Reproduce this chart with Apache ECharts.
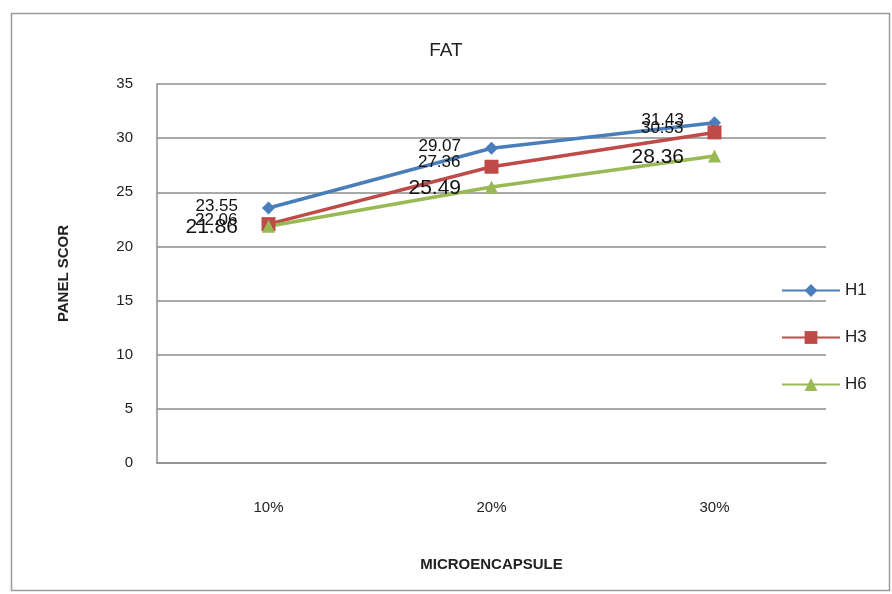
<!DOCTYPE html>
<html>
<head>
<meta charset="utf-8">
<script src="https://cdn.jsdelivr.net/npm/echarts@6/dist/echarts.min.js"></script>
<style>html,body{margin:0;padding:0;background:#fff}#c{width:892px;height:594px}</style>
</head>
<body>
<div id="c"></div>
<script>
const categories = ['10%', '20%', '30%'];
const h1 = [23.55, 29.07, 31.43];
const h3 = [22.06, 27.36, 30.53];
const h6 = [21.86, 25.49, 28.36];
const yTicks = [0, 5, 10, 15, 20, 25, 30, 35];

const chart = echarts.init(document.getElementById('c'));
const font = 'Liberation Sans, Arial, sans-serif';
function lbl(size) {
  return { show: true, position: 'left', distance: 24, color: '#111', fontSize: size, fontFamily: font };
}
chart.setOption({
  animation: false,
  backgroundColor: '#fff',
  graphic: [{
    type: 'rect', left: 9, top: 11,
    shape: { width: 878, height: 577 },
    style: { fill: 'none', stroke: '#9a9a9a', lineWidth: 1.5 }
  }],
  title: {
    text: 'FAT', left: 'center', top: 36,
    textStyle: { fontSize: 19, fontWeight: 'normal', color: '#222', fontFamily: font }
  },
  legend: {
    orient: 'vertical', left: 776, top: 277, itemGap: 30, itemWidth: 58, itemHeight: 16,
    textStyle: { fontSize: 17, color: '#222', fontFamily: font },
    data: ['H1', 'H3', 'H6']
  },
  grid: { left: 157, right: 66, top: 84, bottom: 131 },
  xAxis: {
    type: 'category', data: categories, boundaryGap: true,
    name: 'MICROENCAPSULE', nameLocation: 'middle', nameGap: 94,
    nameTextStyle: { fontSize: 15, fontWeight: 'bold', color: '#222', fontFamily: font },
    axisLine: { lineStyle: { color: '#8c8c8c', width: 1.5 } },
    axisTick: { show: false },
    axisLabel: { margin: 37, fontSize: 15, color: '#222', fontFamily: font }
  },
  yAxis: {
    type: 'value', min: yTicks[0], max: yTicks[yTicks.length - 1], interval: 5,
    name: 'PANEL SCOR', nameLocation: 'middle', nameGap: 86, nameRotate: 90,
    nameTextStyle: { fontSize: 15, fontWeight: 'bold', color: '#222', fontFamily: font },
    axisLine: { show: true, lineStyle: { color: '#8c8c8c', width: 1.5 } },
    axisTick: { show: false },
    axisLabel: { margin: 24, fontSize: 15, color: '#222', fontFamily: font },
    splitLine: { lineStyle: { color: '#8c8c8c', width: 1.5 } }
  },
  series: [
    { name: 'H1', type: 'line', data: h1, symbol: 'diamond', symbolSize: 13,
      itemStyle: { color: '#4a7ebb' }, lineStyle: { width: 3.5, color: '#4a7ebb' },
      label: Object.assign(lbl(17), { offset: [0, -2] }) },
    { name: 'H3', type: 'line', data: h3, symbol: 'rect', symbolSize: 14,
      itemStyle: { color: '#be4b48' }, lineStyle: { width: 3.5, color: '#be4b48' },
      label: Object.assign(lbl(17), { offset: [0, -4] }) },
    { name: 'H6', type: 'line', data: h6, symbol: 'triangle', symbolSize: 13,
      itemStyle: { color: '#98b954' }, lineStyle: { width: 3.5, color: '#98b954' },
      label: Object.assign(lbl(21), { offset: [0, 1] }) }
  ]
});
</script>
</body>
</html>
